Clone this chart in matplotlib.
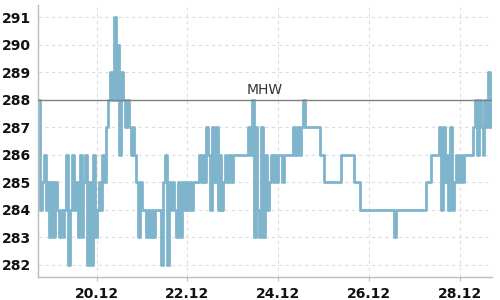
import matplotlib
matplotlib.use("Agg")
import matplotlib.pyplot as plt
import matplotlib.dates as mdates
import pandas as pd

# hourly water level readings starting 18 Dec 17:00
start_time = "2023-12-18 17:00"
levels = [
    288, 284, 285, 286, 284, 285, 283, 285, 283, 285,
    284, 283, 284, 283, 284, 286, 282, 284, 286, 284,
    285, 283, 286, 283, 285, 286, 282, 285, 282, 286,
    283, 284, 285, 284, 286, 285, 287, 288, 289, 288,
    291, 288, 290, 286, 289, 288, 287, 288, 287, 286,
    287, 286, 285, 283, 285, 284, 284, 283, 284, 283,
    284, 283, 284, 284, 284, 282, 285, 286, 282, 285,
    284, 285, 284, 283, 285, 283, 285, 284, 285, 284,
    285, 284, 285, 285, 285, 286, 285, 286, 285, 287,
    286, 284, 287, 285, 287, 284, 286, 284, 285, 286,
    285, 286, 285, 286, 286, 286, 286, 286, 286, 286,
    286, 287, 286, 288, 283, 287, 284, 283, 287, 283,
    286, 284, 285, 286, 285, 286, 285, 286, 286, 285,
    286, 286, 286, 286, 286, 287, 286, 287, 286, 287,
    288, 287, 287, 287, 287, 287, 287, 287, 287, 286,
    286, 285, 285, 285, 285, 285, 285, 285, 285, 285,
    286, 286, 286, 286, 286, 286, 286, 285, 285, 285,
    284, 284, 284, 284, 284, 284, 284, 284, 284, 284,
    284, 284, 284, 284, 284, 284, 284, 284, 283, 284,
    284, 284, 284, 284, 284, 284, 284, 284, 284, 284,
    284, 284, 284, 284, 284, 285, 285, 285, 286, 286,
    286, 286, 287, 284, 287, 285, 286, 284, 287, 284,
    285, 286, 285, 286, 285, 286, 286, 286, 286, 286,
    287, 288, 286, 288, 287, 286, 288, 287, 289, 287,
    288,
]
mhw_level = 288
mhw_label = "MHW"
y_ticks = [282, 283, 284, 285, 286, 287, 288, 289, 290, 291]
x_tick_dates = ["2023-12-20", "2023-12-22", "2023-12-24", "2023-12-26", "2023-12-28"]

times = pd.date_range(start_time, periods=len(levels), freq="h")

fig = plt.figure(figsize=(5, 3), dpi=100)
ax = fig.add_axes([0.076, 0.0767, 0.908, 0.9066])

ax.plot(times, levels, drawstyle="steps-post", color="#7fb4cd", linewidth=2.0,
        zorder=2)
ax.axhline(mhw_level, color="#808080", linewidth=1.0, zorder=3)
ax.text(0.5, mhw_level + 0.12, mhw_label, transform=ax.get_yaxis_transform(),
        ha="center", va="bottom", fontsize=10, color="#333333", zorder=4)

ax.set_xlim(times[0], times[-1])
ax.set_ylim(281.56, 291.45)
ax.set_yticks(y_ticks)
ax.set_xticks(pd.to_datetime(x_tick_dates))
ax.xaxis.set_major_formatter(mdates.DateFormatter("%d.%m"))

for s in ("top", "right"):
    ax.spines[s].set_visible(False)
for s in ("left", "bottom"):
    ax.spines[s].set_color("#bbbbbb")
    ax.spines[s].set_linewidth(1.0)

ax.grid(True, color="#dddddd", linestyle=(0, (3, 3)), linewidth=0.8, zorder=0)
ax.set_axisbelow(True)
ax.tick_params(axis="y", length=0, pad=5, labelsize=10, labelcolor="#111111")
ax.tick_params(axis="x", length=3, color="#bbbbbb", pad=4, labelsize=10,
               labelcolor="#111111")
for lab in ax.get_xticklabels() + ax.get_yticklabels():
    lab.set_fontweight("bold")

fig.savefig("out.png", dpi=100)
